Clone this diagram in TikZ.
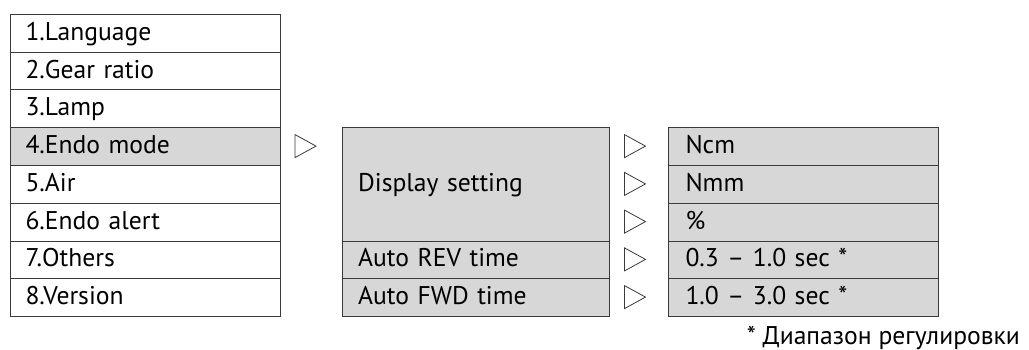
\documentclass[tikz,border=0pt]{standalone}
\usepackage{fontspec}
\setmainfont{PT Sans}
\definecolor{boxfill}{HTML}{D7D7D7}
\definecolor{boxline}{HTML}{3A3A3A}
\begin{document}
\begin{tikzpicture}[x=1pt,y=-1pt,
  row/.style={draw=boxline,line width=1pt,anchor=north west,inner xsep=15pt,inner ysep=0pt,
    text width=240pt,align=left,text height=20pt,text depth=6pt,minimum height=37.75pt,
    font=\fontsize{25.6}{28}\selectfont},
  mrow/.style={row,inner xsep=16pt,text width=235.3pt,fill=boxfill},
  rrow/.style={row,inner xsep=17pt,text width=236pt,fill=boxfill},
  tri/.style={draw=boxline,line width=0.8pt,line join=miter}]
\useasboundingbox (0,0) rectangle (1029,350);
% left menu
\node[row] (l1) at (10,14) {1.Language};
\node[row] (l2) at (10,51.75) {2.Gear ratio};
\node[row] (l3) at (10,89.5) {3.Lamp};
\node[row,fill=boxfill] (l4) at (10,127.25) {4.Endo mode};
\node[row] (l5) at (10,165) {5.Air};
\node[row] (l6) at (10,202.75) {6.Endo alert};
\node[row] (l7) at (10,240.5) {7.Others};
\node[row] (l8) at (10,278.25) {8.Version};
% middle
\node[mrow,minimum height=113.25pt] (m1) at (341.7,127.25) {Display setting};
\node[mrow] (m2) at (341.7,240.5) {Auto REV time};
\node[mrow] (m3) at (341.7,278.25) {Auto FWD time};
% right
\node[rrow] (r1) at (668,127.25) {Ncm};
\node[rrow] (r2) at (668,165) {Nmm};
\node[rrow] (r3) at (668,202.75) {\%};
\node[rrow] (r4) at (668,240.5) {0.3 – 1.0 sec *};
\node[rrow] (r5) at (668,278.25) {1.0 – 3.0 sec *};
% triangles
\foreach \x/\y in {295/146.1, 624.5/146.1, 624.5/183.9, 624.5/221.6, 624.5/259.4, 624.5/297.1}
  \draw[tri] (\x,\y-11.5) -- (\x+21,\y) -- (\x,\y+11.5) -- cycle;
% footnote
\node[anchor=base east,inner sep=0pt,font=\fontsize{25.6}{28}\selectfont] (fn) at (1020,344) {* Диапазон регулировки};
\end{tikzpicture}
\end{document}
